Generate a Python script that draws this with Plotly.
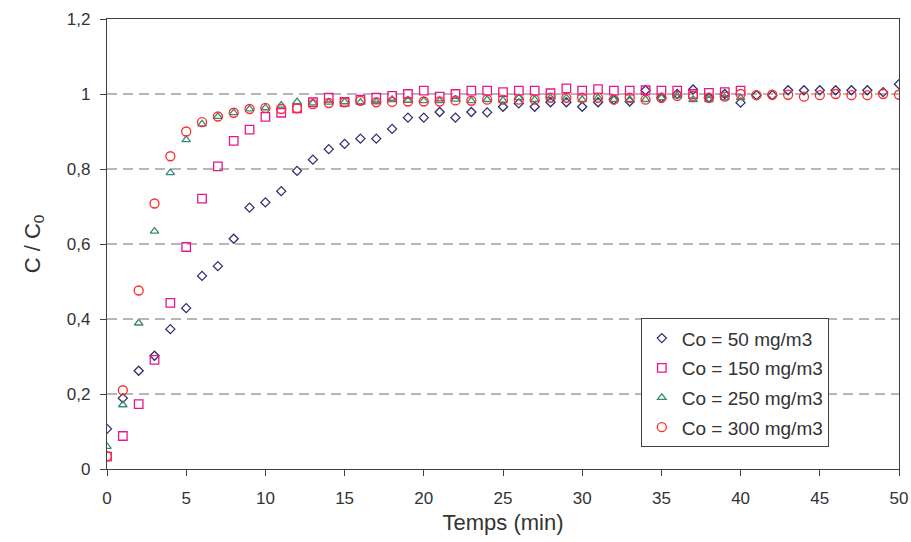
import plotly.graph_objects as go

t50 = list(range(0, 51))
c50 = [0.107, 0.189, 0.262, 0.302, 0.373, 0.429, 0.515, 0.541, 0.614, 0.697,
       0.711, 0.741, 0.795, 0.825, 0.853, 0.867, 0.881, 0.881, 0.907, 0.937,
       0.937, 0.952, 0.937, 0.952, 0.951, 0.966, 0.975, 0.966, 0.978, 0.978,
       0.966, 0.978, 0.985, 0.98, 1.01, 0.99, 1.0, 1.012, 0.99, 1.0,
       0.977, 0.997, 0.997, 1.01, 1.01, 1.01, 1.01, 1.01, 1.01, 1.005, 1.026]

t150 = list(range(0, 41))
c150 = [0.033, 0.088, 0.173, 0.291, 0.443, 0.592, 0.721, 0.807, 0.875, 0.905,
        0.939, 0.95, 0.962, 0.978, 0.99, 0.979, 0.985, 0.99, 0.995, 1.0,
        1.009, 0.993, 1.0, 1.009, 1.009, 1.005, 1.009, 1.009, 1.002, 1.015,
        1.009, 1.013, 1.009, 1.009, 1.01, 1.009, 1.009, 1.0, 1.003, 1.005, 1.009]

t250 = list(range(0, 41))
c250 = [0.06, 0.171, 0.389, 0.634, 0.79, 0.878, 0.92, 0.94, 0.95, 0.96,
        0.963, 0.97, 0.979, 0.976, 0.978, 0.979, 0.978, 0.979, 0.985, 0.983,
        0.982, 0.982, 0.986, 0.982, 0.985, 0.983, 0.99, 0.985, 0.99, 0.99,
        0.985, 0.99, 0.985, 0.985, 0.985, 0.99, 0.995, 0.985, 0.985, 0.99, 0.99]

t300 = list(range(0, 51))
c300 = [0.034, 0.21, 0.476, 0.708, 0.834, 0.9, 0.925, 0.94, 0.95, 0.96,
        0.963, 0.96, 0.962, 0.973, 0.976, 0.978, 0.982, 0.978, 0.979, 0.98,
        0.98, 0.98, 0.983, 0.982, 0.985, 0.985, 0.985, 0.985, 0.99, 0.99,
        0.99, 0.99, 0.985, 0.99, 0.985, 0.99, 0.995, 0.995, 0.99, 0.993,
        1.0, 0.997, 0.998, 0.998, 0.993, 0.997, 1.0, 0.997, 0.997, 1.0, 0.998]

series_names = ["Co = 50 mg/m3", "Co = 150 mg/m3", "Co = 250 mg/m3", "Co = 300 mg/m3"]

y_tickvals = [0, 0.2, 0.4, 0.6, 0.8, 1.0, 1.2]
y_ticktext = ["0", "0,2", "0,4", "0,6", "0,8", "1", "1,2"]
x_tickvals = [0, 5, 10, 15, 20, 25, 30, 35, 40, 45, 50]

fig = go.Figure()

styles = [
    ("diamond-open", "#2F2F6E", 7),
    ("square-open", "#E8158E", 8.5),
    ("triangle-up-open", "#3A8A78", 7.5),
    ("circle-open", "#FF2A2A", 9),
]
data = [(t50, c50), (t150, c150), (t250, c250), (t300, c300)]

for i, ((x, y), name, (sym, col, sz)) in enumerate(zip(data, series_names, styles)):
    fig.add_trace(go.Scatter(
        x=x, y=y, mode="markers", name=name, legendgroup=f"g{i}",
        marker=dict(symbol=sym, size=sz, color=col, line=dict(width=1.3, color=col)),
    ))

# dashed gridlines
for v in y_tickvals[1:-1]:
    fig.add_shape(type="line", xref="paper", yref="y", x0=0, x1=1, y0=v, y1=v,
                  line=dict(color="#707070", width=1, dash="10px,6px"), layer="below")

font_family = "Liberation Sans, Arial, sans-serif"

fig.update_layout(
    width=911, height=542,
    margin=dict(l=107, r=12, t=19, b=73, autoexpand=False),
    paper_bgcolor="white", plot_bgcolor="white",
    font=dict(family=font_family, size=17, color="#333333"),
    showlegend=True,
    legend=dict(
        x=0.674, y=0.335, xanchor="left", yanchor="top",
        bgcolor="white", bordercolor="#404040", borderwidth=1,
        font=dict(size=19, color="#333333"),
        itemsizing="trace", tracegroupgap=2, traceorder="grouped",
    ),
    xaxis=dict(
        range=[0, 50], tickvals=x_tickvals, showgrid=False, zeroline=False,
        showline=True, linecolor="#404040", linewidth=1.3, mirror=True,
        ticks="outside", ticklen=6, tickcolor="#404040",
        title=dict(text="Temps (min)", font=dict(size=22, color="#333333"), standoff=8),
        tickfont=dict(size=17, color="#333333"), ticklabelstandoff=7,
    ),
    yaxis=dict(
        range=[0, 1.2], tickvals=y_tickvals, ticktext=y_ticktext,
        showgrid=False, zeroline=False,
        showline=True, linecolor="#404040", linewidth=1.3, mirror=True,
        ticks="outside", ticklen=6, tickcolor="#404040",
        title=dict(text="C / C<sub>0</sub>", font=dict(size=22, color="#333333"), standoff=20),
        tickfont=dict(size=17, color="#333333"), ticklabelstandoff=6,
    ),
)

fig.write_html("out.html", config={"displayModeBar": False},
               post_script="document.body.style.margin='0px';")
